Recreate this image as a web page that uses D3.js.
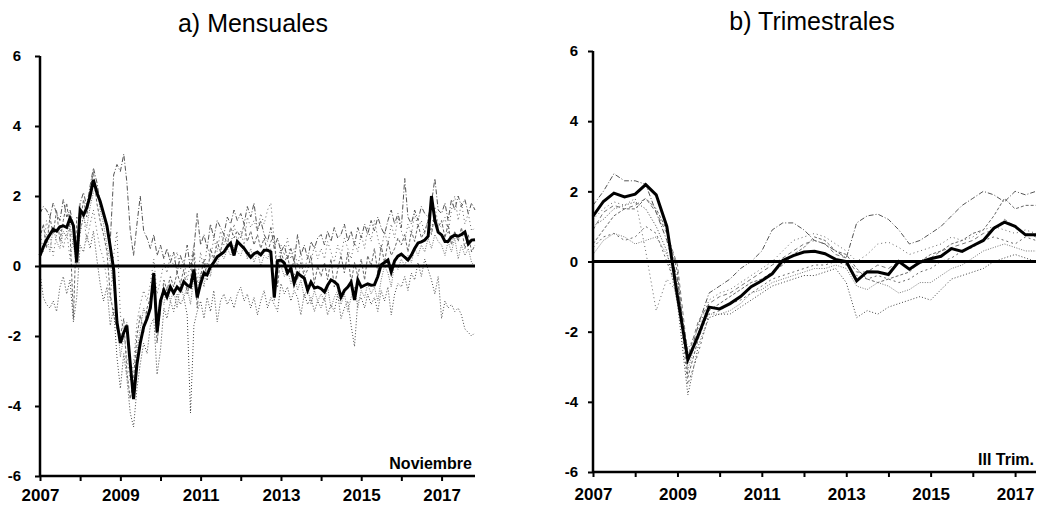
<!DOCTYPE html>
<html>
<head>
<meta charset="utf-8">
<script src="https://cdn.jsdelivr.net/npm/d3@7/dist/d3.min.js"></script>
<style>
  html, body { margin: 0; padding: 0; background: #fff; }
  svg { display: block; font-family: "Liberation Sans", Arial, sans-serif; }
</style>
</head>
<body>
<svg id="chart" width="1037" height="506"></svg>
<script>
// ---------- DATA ----------
const titles = ["a) Mensuales", "b) Trimestrales"];
const notes = ["Noviembre", "III Trim."];
const yTicks = [-6, -4, -2, 0, 2, 4, 6];
const yearLabels = [2007, 2009, 2011, 2013, 2015, 2017];
const yearTicks = [2007, 2008, 2009, 2010, 2011, 2012, 2013, 2014, 2015, 2016, 2017];

// Monthly: Jan 2007 .. Nov 2017 (131 points)
const monthlyStart = [2007, 0];
const monthlyMain = [
  0.3, 0.55, 0.74, 0.9, 1.05, 1.0, 1.12, 1.15, 1.1, 1.37, 1.15, 0.1,
  1.6, 1.46, 1.66, 2.0, 2.46, 2.1, 1.85, 1.5, 1.15, 0.55, -0.1, -1.6,
  -2.2, -1.9, -1.7, -2.8, -3.8, -2.8, -2.2, -1.74, -1.5, -1.2, -0.2, -1.9,
  -1.0, -0.69, -0.88, -0.6, -0.77, -0.6, -0.7, -0.45, -0.55, -0.6, -0.1, -0.9,
  -0.5, -0.2, -0.25, -0.02, 0.1, 0.26, 0.33, 0.4, 0.55, 0.65, 0.3, 0.7,
  0.6, 0.5, 0.37, 0.25, 0.35, 0.4, 0.32, 0.45, 0.45, 0.4, -0.9, 0.15,
  0.17, 0.08, -0.2, -0.06, -0.49, -0.2, -0.28, -0.35, -0.69, -0.46, -0.63, -0.6,
  -0.65, -0.74, -0.55, -0.4, -0.45, -0.54, -0.89, -0.7, -0.6, -0.46, -0.97, -0.4,
  -0.6, -0.55, -0.51, -0.55, -0.54, -0.3, 0.03, 0.1, 0.17, -0.17, 0.15, 0.28,
  0.34, 0.25, 0.17, 0.31, 0.5, 0.66, 0.69, 0.74, 0.85, 2.0, 1.3, 0.97,
  0.89, 0.7, 0.7, 0.83, 0.88, 0.85, 0.9, 0.97, 0.63, 0.74, 0.75
];
const monthlyS1 = [
  1.5, 1.7, 1.6, 1.4, 1.8, 1.5, 1.3, 1.9, 1.4, 1.6, 1.2, 0.5,
  1.8, 2.1, 1.7, 2.3, 2.8, 2.4, 1.8, 1.5, 1.1, 0.7, 2.6, 2.9,
  2.7, 3.2, 2.4, 1.0, 0.3, 1.2, 2.0, 1.0, 0.8, 0.5, 0.9, 0.3,
  0.6, 0.2, 0.5, 0.1, 0.4, -0.2, 0.3, 0.0, 0.6, -0.1, 0.5, 1.5,
  0.6, 0.9, 0.5, 1.2, 0.8, 1.3, 1.1, 0.9, 1.4, 1.2, 1.6, 1.3,
  1.5, 1.2, 1.7, 1.4, 1.8, 1.0, 1.3, 0.9, 0.7, 1.1, 0.5, 0.8,
  0.4, 0.6, 0.2, 0.5, 0.1, 0.9, 0.3, 0.6, 0.2, 0.7, 0.5, 0.8,
  0.9, 0.6, 1.0, 0.7, 1.1, 0.8, 0.9, 1.2, 0.7, 1.0, 0.6, 1.1,
  0.8, 1.2, 0.9, 1.3, 1.0, 1.4, 1.1, 0.9, 1.3, 1.6, 1.2, 1.5,
  1.1, 2.5, 1.4, 1.2, 1.6, 1.3, 1.7, 1.5, 1.4, 1.8, 2.5, 1.6,
  1.5, 1.8, 1.3, 1.9, 1.6, 2.0, 1.7, 1.9, 1.5, 1.8, 1.6
];
const monthlyS2 = [
  -0.2, -0.9, -1.1, -1.2, -1.0, -1.3, -0.6, -0.3, -0.8, -0.4, -1.6, -0.9,
  0.6, 0.4, 0.9, 0.5, 1.0, 0.2, -0.5, -1.0, -0.6, -1.7, -1.2, -2.6,
  -3.5, -2.5, -3.2, -4.2, -4.6, -3.5, -2.8, -2.2, -2.5, -1.7, -1.5, -3.1,
  -2.4, -1.2, -1.5, -1.0, -1.3, -0.8, -1.1, -0.9, -1.4, -4.2, -1.7, -1.3,
  -1.0, -1.5, -0.9, -1.3, -0.7, -1.6, -1.0, -0.8, -1.1, -0.9, -1.2, -0.8,
  -0.6, -1.0, -0.8, -1.2, -0.9, -1.4, -1.0, -0.7, -1.2, -0.9, -1.1, -1.3,
  -0.5, -0.8, -0.6, -1.0, -0.7, -0.9, -1.4, -0.8, -1.1, -0.9, -1.3, -1.0,
  -1.2, -0.9, -1.4, -1.1, -1.3, -0.8, -1.5, -1.2, -1.0, -1.7, -2.3, -1.0,
  -0.9, -1.2, -0.8, -1.1, -0.9, -1.3, -0.7, -1.0, -0.6, -1.4, -0.8, -0.5,
  -0.6, -0.3, -0.7, -0.2, -0.4, 0.1, -0.3, 0.2, -0.1, -0.4, -0.8, -0.3,
  -1.5, -1.0, -1.2, -1.1, -1.3, -1.2, -1.4, -1.8, -1.9, -2.0, -1.9
];
const monthlyS3 = [
  0.8, 1.2, 0.5, 1.4, 0.9, 1.6, 0.7, 1.3, 1.8, 1.0, -1.5, 1.4,
  1.2, 1.9, 1.4, 2.2, 2.7, 1.8, 1.3, 0.9, 0.4, -0.8, -1.4, -1.8,
  -2.0, -1.5, -3.0, -3.8, -3.2, -2.0, -1.4, -1.9, -1.2, -0.9, -0.4, -2.2,
  -1.2, -0.4, -0.7, -0.3, -0.6, -0.2, -0.5, -0.1, -0.8, -0.4, 0.4, -1.2,
  -0.3, 0.2, -0.4, 0.5, 0.2, 0.7, 0.4, 0.9, 0.6, 1.1, 0.8, 1.0,
  0.8, 1.2, 0.7, 1.0, 0.6, 0.9, 0.5, 0.8, 0.4, 0.7, 0.9, -0.6,
  0.4, 0.1, 0.3, -0.2, 0.2, -0.4, 0.1, -0.3, -0.1, 0.3, -0.5, 0.0,
  -0.3, 0.1, -0.4, 0.2, -0.6, -0.1, 0.3, -0.2, 0.4, -0.5, 0.1, -0.3,
  0.2, -0.4, 0.3, 0.0, 0.5, -0.2, 0.6, 0.1, 0.7, 0.3, 0.5, 0.8,
  0.6, 0.9, 0.4, 1.0, 0.7, 1.2, 0.8, 1.0, 1.3, 0.9, 1.5, 1.1,
  1.3, 0.8, 1.2, 0.6, 1.0, 0.7, 1.1, 0.5, 0.9, 0.4, 0.6
];
const monthlyS4 = [
  0.2, 0.6, 0.9, 0.4, 1.1, 0.7, 0.5, 1.0, 0.8, 1.2, 0.6, 0.0,
  1.0, 1.4, 1.1, 1.7, 2.1, 2.3, 1.6, 1.2, 0.6, 0.1, -0.6, -1.4,
  -2.6, -2.0, -1.6, -2.9, -3.6, -2.4, -1.8, -1.2, -1.5, -1.0, -0.5, -1.6,
  -0.9, -1.1, -0.6, -1.0, -0.7, -1.2, -0.5, -0.9, -0.6, -1.1, -0.3, -0.7,
  -0.2, -0.6, 0.1, -0.3, 0.3, 0.0, 0.4, 0.2, 0.5, 0.3, 0.6, 0.4,
  0.3, 0.6, 0.2, 0.5, 0.1, 0.4, 0.0, 0.3, 0.2, 0.5, -1.0, 0.1,
  0.0, -0.3, -0.1, -0.5, -0.2, -0.7, -0.4, -0.9, -0.6, -1.1, -0.7, -1.0,
  -0.8, -1.0, -0.6, -1.2, -0.9, -0.7, -1.1, -0.8, -1.3, -0.9, -0.6, -1.2,
  -0.7, -0.9, -0.5, -0.8, -0.6, -1.0, -0.4, 0.0, -0.2, -0.6, 0.1, -0.1,
  0.2, 0.0, 0.3, 0.1, 0.5, 0.3, 0.6, 0.4, 0.8, 0.5, 0.9, 0.7,
  0.6, 0.3, 0.7, 0.4, 0.8, 0.2, 0.6, 0.3, 0.5, 0.1, 0.0
];
const monthlyS5 = [
  1.0, 0.4, 1.3, 0.8, 0.3, 0.9, 1.1, 0.5, 1.0, 0.2, 0.8, 0.4,
  0.9, 1.5, 0.7, 1.2, 1.6, 1.0, 0.5, 0.2, -0.4, -1.0, 0.3, 1.0,
  -1.4, -1.9, -2.6, -3.3, -2.8, -1.6, -1.1, -0.7, -1.0, -0.5, 0.2, -0.8,
  -0.4, 0.1, -0.2, 0.3, 0.0, 0.4, -0.1, 0.2, -0.4, 0.1, 0.6, -0.5,
  0.4, -0.2, 0.6, 0.2, 0.8, 0.4, 1.0, 0.6, 0.9, 0.5, 1.2, 0.7,
  1.0, 0.6, 1.4, 1.1, 1.3, 1.0, 1.5, 1.2, 1.6, 1.8, 0.7, 0.0,
  0.6, 0.3, 0.8, 0.2, 0.5, 0.0, 0.4, -0.2, 0.3, 0.1, 0.6, 0.2,
  0.5, 0.2, 0.7, 0.4, 0.1, 0.6, 0.3, 0.8, 0.5, 0.2, 0.7, 0.4,
  0.9, 0.5, 1.1, 0.7, 1.3, 0.8, 0.4, 1.0, 0.6, 1.2, 0.8, 1.4,
  1.0, 0.7, 1.2, 0.9, 1.5, 1.1, 1.3, 0.9, 1.4, 1.0, 1.7, 1.2,
  1.1, 1.4, 0.9, 1.6, 2.0, 1.3, 1.8, 1.2, 1.5, 1.0, 1.1
];

// Quarterly: 2007 Q1 .. 2017 Q3 (43 points)
const quarterlyMain = [
  1.29, 1.71, 1.95, 1.84,
  1.92, 2.19, 1.9, 1.0,
  -1.0, -2.8, -2.1, -1.3,
  -1.35, -1.2, -1.0, -0.72,
  -0.55, -0.35, 0.03, 0.17,
  0.27, 0.29, 0.22, 0.06,
  0.0, -0.55, -0.29, -0.3,
  -0.37, 0.0, -0.22, -0.02,
  0.08, 0.15, 0.37, 0.29,
  0.45, 0.6, 0.95, 1.12,
  1.0, 0.76, 0.76
];
const quarterlyS1 = [
  1.6, 2.0, 2.5, 2.3, 2.3, 2.2, 1.4, 0.6, -0.5, -2.9, -1.8, -0.9,
  -0.7, -0.5, -0.2, 0.0, 0.3, 0.9, 1.1, 1.1, 0.9, 0.6, 0.5, 0.3,
  0.1, 1.1, 1.3, 1.35, 1.2, 0.9, 0.5, 0.6, 0.8, 1.0, 1.3, 1.6,
  1.8, 2.0, 1.9, 1.7, 2.0, 1.9, 2.0
];
const quarterlyS2 = [
  1.0, 1.2, 1.5, 1.6, 1.7, 1.5, 1.0, 0.3, -1.2, -3.8, -2.4, -1.6,
  -1.5, -1.5, -1.3, -1.1, -0.9, -0.7, -0.6, -0.5, -0.4, -0.4, -0.3, -0.2,
  -0.6, -1.6, -1.4, -1.5, -1.3, -1.2, -1.1, -1.0, -1.1, -0.8, -0.5, -0.4,
  -0.3, -0.2, 0.0, 0.1, 0.2, 0.1, 0.0
];
const quarterlyS3 = [
  0.5, 0.9, 1.3, 1.5, 1.5, 1.8, 1.5, 0.9, -0.3, -3.3, -2.2, -1.4,
  -1.2, -1.0, -0.8, -0.6, -0.5, -0.3, -0.1, 0.2, 0.4, 0.7, 0.6, 0.3,
  0.2, -0.2, -0.5, -0.6, -0.5, -0.4, -0.3, 0.0, 0.2, 0.3, 0.5, 0.6,
  0.8, 0.9, 1.3, 1.8, 1.5, 1.6, 1.6
];
const quarterlyS4 = [
  0.2, 0.6, 0.8, 0.7, 0.5, 0.6, 0.7, 0.2, -0.6, -3.1, -2.0, -1.5,
  -1.5, -1.4, -1.2, -0.9, -0.8, -0.6, -0.5, -0.4, -0.3, -0.2, -0.2, -0.1,
  -0.2, -0.7, -0.8, -0.6, -0.7, -0.9, -0.8, -0.6, -0.6, -0.4, -0.2, -0.1,
  0.1, 0.3, 0.4, 0.5, 0.4, 0.3, 0.3
];
const quarterlyS5 = [
  1.2, 1.5, 1.7, 1.6, 1.8, 0.3, -1.4, -0.5, -0.9, -2.5, -1.9, -1.1,
  -0.9, -0.8, -0.6, -0.4, -0.2, 0.0, 0.3, 0.6, 0.7, 0.8, 0.7, 0.5,
  0.3, 0.0, 0.2, 0.5, 0.55, 0.4, 0.2, 0.3, 0.4, 0.5, 0.7, 0.6,
  0.7, 0.9, 1.0, 0.9, 0.8, 0.9, 0.8
];
const quarterlyS6 = [
  0.4, 0.7, 0.8, 0.6, 0.7, 1.0, 0.8, 0.0, -0.8, -3.5, -2.6, -1.5,
  -1.4, -1.2, -1.1, -0.9, -0.7, -0.5, -0.4, -0.3, -0.2, -0.1, -0.1, 0.0,
  -0.1, -0.4, -0.5, -0.4, -0.5, -0.6, -0.5, -0.3, -0.2, 0.0, 0.1, 0.3,
  0.4, 0.6, 0.7, 0.6, 0.5, 0.7, 0.6
];
const quarterlyS7 = [
  0.9, 1.4, 1.6, 1.5, 1.6, 1.8, 1.4, 0.8, -0.1, -2.7, -1.7, -1.2,
  -1.0, -0.9, -0.7, -0.5, -0.3, -0.1, 0.1, 0.3, 0.5, 0.6, 0.5, 0.2,
  0.1, -0.3, -0.3, -0.1, -0.2, 0.0, -0.2, 0.0, 0.1, 0.3, 0.4, 0.5,
  0.6, 0.8, 0.9, 1.2, 1.0, 0.8, 0.7
];

// ---------- DRAWING ----------
const svg = d3.select("#chart");
const font = "'Liberation Sans', Arial, sans-serif";
const thinStyles = [
  { dash: "5,2,1,2", color: "#555" },
  { dash: "1,2", color: "#444" },
  { dash: "3,2", color: "#666" },
  { dash: "1,1.5", color: "#777" },
  { dash: "1,3", color: "#666" },
  { dash: "2,3", color: "#666" },
  { dash: "4,3", color: "#777" }
];

function panel(opts) {
  const g = svg.append("g");
  const x = d3.scaleTime().domain(opts.xDomain).range(opts.xRange);
  const y = d3.scaleLinear().domain([-6, 6]).range(opts.yRange);
  const [x0, x1] = opts.xRange;

  // title
  g.append("text").attr("x", opts.titleX).attr("y", opts.titleY)
    .attr("text-anchor", "middle").attr("font-size", 25).attr("font-family", font)
    .attr("fill", "#000").text(opts.title);

  // thin series
  const line = d3.line().x(d => x(d.date)).y(d => y(d.v));
  opts.thin.forEach((arr, k) => {
    const st = thinStyles[k % thinStyles.length];
    g.append("path")
      .datum(arr.map((v, i) => ({ date: opts.dateOf(i), v })))
      .attr("fill", "none").attr("stroke", st.color).attr("stroke-width", 1)
      .attr("stroke-dasharray", st.dash).attr("d", line);
  });

  // zero line
  g.append("line").attr("x1", x0).attr("x2", x1).attr("y1", y(0)).attr("y2", y(0))
    .attr("stroke", "#000").attr("stroke-width", 3);

  // main series
  g.append("path")
    .datum(opts.main.map((v, i) => ({ date: opts.dateOf(i), v })))
    .attr("fill", "none").attr("stroke", "#000").attr("stroke-width", 3)
    .attr("stroke-linejoin", "miter").attr("d", line);

  // y axis
  const ya = g.append("g").attr("transform", `translate(${x0},0)`)
    .call(d3.axisLeft(y).tickValues(yTicks).tickSize(5).tickPadding(opts.yPad).tickFormat(d => String(d)));
  ya.select(".domain").attr("stroke-width", 2.5).attr("d", `M0,${y(6)}V${y(-6)}`);
  ya.selectAll(".tick line").attr("stroke-width", 2);
  ya.selectAll("text").attr("font-size", 15).attr("font-weight", "bold").attr("font-family", font)
    .attr("fill", "#000");

  // x axis
  const xa = g.append("g").attr("transform", `translate(0,${y(-6)})`)
    .call(d3.axisBottom(x).tickValues(yearTicks.map(yy => new Date(yy, 0, 1))).tickSize(5).tickPadding(opts.xPad)
      .tickFormat(d => yearLabels.includes(d.getFullYear()) ? String(d.getFullYear()) : ""));
  xa.select(".domain").attr("stroke-width", 2.5).attr("d", `M${x0},0H${x1}`);
  xa.selectAll(".tick line").attr("stroke-width", 2);
  xa.selectAll("text").attr("font-size", 17).attr("font-weight", "bold").attr("font-family", font)
    .attr("fill", "#000");
  if (opts.lastLabelShift) {
    xa.selectAll(".tick text").filter(d => d.getFullYear() === 2017)
      .attr("dx", opts.lastLabelShift);
  }

  // note
  g.append("text").attr("x", opts.noteX).attr("y", opts.noteY)
    .attr("text-anchor", "end").attr("font-size", 16).attr("font-weight", "bold")
    .attr("font-family", font).attr("fill", "#000").text(opts.note);
}

panel({
  title: titles[0], titleX: 253, titleY: 32,
  xDomain: [new Date(2007, 0, 1), new Date(2017, 10, 1)], xRange: [40, 475],
  yRange: [476, 56], yPad: 14, xPad: 8,
  dateOf: i => new Date(monthlyStart[0], monthlyStart[1] + i, 1),
  main: monthlyMain,
  thin: [monthlyS1, monthlyS2, monthlyS3, monthlyS4, monthlyS5],
  note: notes[0], noteX: 472, noteY: 469
});

panel({
  title: titles[1], titleX: 812, titleY: 30,
  xDomain: [new Date(2007, 0, 1), new Date(2017, 6, 1)], xRange: [593, 1036],
  yRange: [472, 51], yPad: 10, xPad: 11, lastLabelShift: 0,
  dateOf: i => new Date(2007, i * 3, 1),
  main: quarterlyMain,
  thin: [quarterlyS1, quarterlyS2, quarterlyS3, quarterlyS4, quarterlyS5, quarterlyS6, quarterlyS7],
  note: notes[1], noteX: 1034, noteY: 465
});
</script>
</body>
</html>
